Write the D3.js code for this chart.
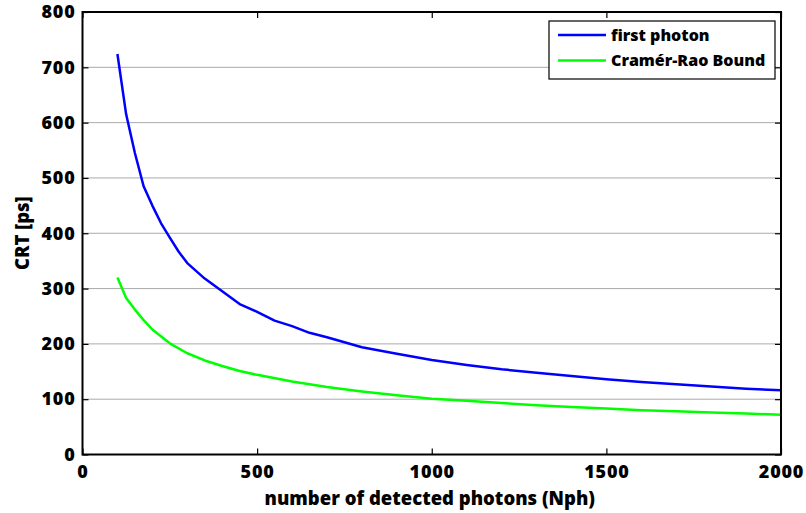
<!DOCTYPE html>
<html>
<head>
<meta charset="utf-8">
<script src="https://cdn.jsdelivr.net/npm/d3@7"></script>
<style>
  html, body { margin: 0; padding: 0; background: #fff; }
  svg { display: block; }
  text { font-family: "Open Sans", Lato, sans-serif; font-weight: 800; fill: #000; }
</style>
</head>
<body>
<svg id="chart" width="806" height="513"></svg>
<script>
// Number of detected photons for each sample
const photonsFirst = [100,125,150,175,200,225,250,275,300,350,400,450,500,550,600,650,700,750,800,900,1000,1100,1200,1300,1400,1500,1600,1700,1800,1900,2000];
// Coincidence resolving time of the first-photon estimator [ps]
const crtFirst = [724,615,545,485,450,418,392,367,346,318,295,272,258,242,232,220,212,203,194,182,171,162,154,148,142,136,131,127,123,119,116];

const photonsCRB = [100,125,150,175,200,250,300,350,400,450,500,600,700,800,900,1000,1100,1200,1300,1400,1500,1600,1700,1800,1900,2000];
// Cramér-Rao lower bound on the CRT [ps]
const crtCRB = [320,283,262,243,226,201,183,170,160,151,144,132,122,114,107,101,97,93,89,86,83,80,78,76,74,72];

const xTicks = [0,500,1000,1500,2000];
const yTicks = [0,100,200,300,400,500,600,700,800];
const seriesNames = ["first photon", "Cramér-Rao Bound"];
const seriesColors = ["#0000ff", "#00ff00"];

const svg = d3.select("#chart");
const L = 82.5, R = 781, T = 12, B = 454.5;

const x = d3.scaleLinear().domain([0, 2000]).range([L, R]);
const y = d3.scaleLinear().domain([0, 800]).range([B, T]);

// horizontal dotted grid
svg.append("g")
  .selectAll("line")
  .data(yTicks.filter(v => v > 0 && v < 800))
  .join("line")
  .attr("x1", L).attr("x2", R)
  .attr("y1", d => y(d)).attr("y2", d => y(d))
  .attr("stroke", "#555")
  .attr("stroke-width", 1)
  .attr("stroke-dasharray", "1,1");

// data curves
const line = d3.line().x(d => x(d[0])).y(d => y(d[1]));
const curves = [
  d3.zip(photonsFirst, crtFirst),
  d3.zip(photonsCRB, crtCRB)
];
svg.append("g")
  .selectAll("path")
  .data(curves)
  .join("path")
  .attr("d", line)
  .attr("fill", "none")
  .attr("stroke", (d, i) => seriesColors[i])
  .attr("stroke-width", 2.5)
  .attr("stroke-linejoin", "round");

// axes with inward ticks on all four sides
const tickLen = 6;
const styleAxis = g => {
  g.select(".domain").remove();
  g.selectAll(".tick line").attr("stroke", "#000").attr("stroke-width", 1.2);
};

svg.append("g")
  .attr("transform", `translate(0,${B})`)
  .call(d3.axisBottom(x).tickValues(xTicks).tickSize(-tickLen).tickPadding(11).tickFormat(d3.format("d")))
  .call(styleAxis)
  .call(g => g.selectAll("text").attr("font-size", 18).attr("letter-spacing", 0.8).attr("dy", "0.71em"));

svg.append("g")
  .attr("transform", `translate(0,${T})`)
  .call(d3.axisTop(x).tickValues(xTicks).tickSize(-tickLen).tickFormat(""))
  .call(styleAxis);

svg.append("g")
  .attr("transform", `translate(${L},0)`)
  .call(d3.axisLeft(y).tickValues(yTicks).tickSize(-tickLen).tickPadding(7).tickFormat(d3.format("d")))
  .call(styleAxis)
  .call(g => g.selectAll("text").attr("font-size", 18).attr("letter-spacing", 0.8));

svg.append("g")
  .attr("transform", `translate(${R},0)`)
  .call(d3.axisRight(y).tickValues(yTicks).tickSize(-tickLen).tickFormat(""))
  .call(styleAxis);

// plot frame
svg.append("rect")
  .attr("x", L).attr("y", T)
  .attr("width", R - L).attr("height", B - T)
  .attr("fill", "none")
  .attr("stroke", "#000")
  .attr("stroke-width", 2);

// axis titles
svg.append("text")
  .attr("x", (L + R) / 2 - 2)
  .attr("y", 505)
  .attr("text-anchor", "middle")
  .attr("font-size", 18.5)
  .text("number of detected photons (Nph)");

svg.append("text")
  .attr("transform", `translate(29,${(T + B) / 2}) rotate(-90)`)
  .attr("text-anchor", "middle")
  .attr("font-size", 18.5)
  .text("CRT [ps]");

// legend
const lg = svg.append("g");
lg.append("rect")
  .attr("x", 549).attr("y", 21)
  .attr("width", 226).attr("height", 58)
  .attr("fill", "#fff")
  .attr("stroke", "#000")
  .attr("stroke-width", 1.2);
const items = lg.selectAll("g.item")
  .data(seriesNames)
  .join("g")
  .attr("class", "item")
  .attr("transform", (d, i) => `translate(0,${35 + i * 25.5})`);
items.append("line")
  .attr("x1", 558).attr("x2", 606)
  .attr("stroke", (d, i) => seriesColors[i])
  .attr("stroke-width", 2.5);
items.append("text")
  .attr("x", 611)
  .attr("dy", "0.35em")
  .attr("font-size", 16)
  .text(d => d);
</script>
</body>
</html>
